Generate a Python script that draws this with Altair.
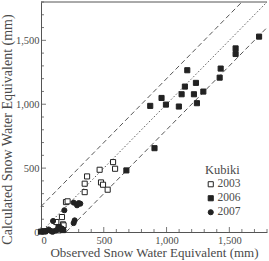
import altair as alt
import pandas as pd

# Observed / calculated snow water equivalent (mm)
obs_2003 = [199, 212, 367, 348, 348, 467, 478, 494, 531, 574, 590, 167, 122, 175, 140, 180, 20, 150]
calc_2003 = [234, 240, 435, 378, 312, 487, 388, 370, 331, 547, 495, 117, 78, 60, 13, 52, 5, 25]

obs_2006 = [870, 960, 995, 1098, 1120, 1146, 1165, 1218, 1234, 1242, 1293, 1423, 1431,
            904, 680, 1550, 1550, 1737, 0, 30, 140, 175]
calc_2006 = [987, 1049, 997, 982, 1078, 1138, 1266, 1078, 1167, 1008, 1099, 1208, 1279,
             656, 482, 1437, 1393, 1529, 3, 5, 39, 15]

obs_2007 = [186, 96, 260, 313, 287, 268, 260, 167, 42, 60, 75, 100, 120, 140, 155, 90, 300]
calc_2007 = [170, 86, 230, 222, 209, 91, 70, 27, 8, 20, 10, 5, 12, 35, 25, 2, 226]

years = ["2003", "2006", "2007"]
offsets = [200, -200]
x_max = 1800
y_max = 1800
major_ticks = [0, 500, 1000, 1500]
minor_ticks = [v for v in range(0, 1801, 100) if v % 500 != 0]

rows = []
for yr, xs_, ys_ in zip(years, [obs_2003, obs_2006, obs_2007], [calc_2003, calc_2006, calc_2007]):
    for a, b in zip(xs_, ys_):
        rows.append({"obs": a, "calc": b, "year": yr})
pts = pd.DataFrame(rows)

dash_rows = []
for off in offsets:
    x0 = max(0, -off)
    x1 = min(x_max, y_max - off)
    dash_rows.append({"line": str(off), "obs": x0, "calc": x0 + off, "o": 0})
    dash_rows.append({"line": str(off), "obs": x1, "calc": x1 + off, "o": 1})
dash_df = pd.DataFrame(dash_rows)
diag_df = pd.DataFrame({"obs": [0, min(x_max, y_max)], "calc": [0, min(x_max, y_max)], "o": [0, 1]})

W, H = 226, 230
FONT = "Liberation Serif"
GRAY = "#555555"
TEXT = "#4a4a4a"

xs = alt.Scale(domain=[0, x_max], nice=False, zero=False)
ys = alt.Scale(domain=[0, y_max], nice=False, zero=False)

dashed = alt.Chart(dash_df).mark_line(color="#444", strokeWidth=0.9, strokeDash=[5, 3]).encode(
    x=alt.X("obs:Q", scale=xs), y=alt.Y("calc:Q", scale=ys), detail="line:N", order="o:Q")
dotted = alt.Chart(diag_df).mark_line(color="#444", strokeWidth=0.9, strokeDash=[1.5, 2]).encode(
    x=alt.X("obs:Q", scale=xs), y=alt.Y("calc:Q", scale=ys), order="o:Q")

leg = alt.Legend(title="Kubiki", orient="none", legendX=164, legendY=162)
points = alt.Chart(pts).mark_point(size=26, opacity=1, strokeWidth=1).encode(
    x=alt.X("obs:Q", scale=xs,
            axis=alt.Axis(title="Observed Snow Water Equivalent (mm)", values=major_ticks,
                          format=",.0f", ticks=False, grid=False, labelPadding=3, titlePadding=1,
                          titleFontSize=13)),
    y=alt.Y("calc:Q", scale=ys,
            axis=alt.Axis(title="Calculated Snow Water Equivalent (mm)", values=major_ticks,
                          format=",.0f", ticks=False, grid=False, labelPadding=2, titlePadding=1,
                          titleFontSize=14, titleY=127)),
    shape=alt.Shape("year:N", scale=alt.Scale(domain=years, range=["square", "square", "circle"]),
                    legend=leg),
    fill=alt.Fill("year:N", scale=alt.Scale(domain=years, range=["white", "#222", "#222"]),
                  legend=leg),
    stroke=alt.Stroke("year:N", scale=alt.Scale(domain=years, range=["#222", "#222", "#222"]),
                      legend=leg),
)

major_df = pd.DataFrame({"v": major_ticks})
minor_df = pd.DataFrame({"v": minor_ticks})


def xtick_layer(df, length):
    return alt.Chart(df).mark_rule(color=GRAY, strokeWidth=0.8).encode(
        x=alt.X("v:Q", scale=xs), y=alt.value(H), y2=alt.value(H - length))


def ytick_layer(df, length):
    return alt.Chart(df).mark_rule(color=GRAY, strokeWidth=0.8).encode(
        y=alt.Y("v:Q", scale=ys), x=alt.value(0), x2=alt.value(length))


top_border = alt.Chart(major_df.head(1)).mark_rule(color=GRAY, strokeWidth=1).encode(
    x=alt.value(0), x2=alt.value(W), y=alt.value(0))

chart = alt.layer(
    dashed, dotted,
    xtick_layer(major_df, 5), xtick_layer(minor_df, 3),
    ytick_layer(major_df, 5), ytick_layer(minor_df, 3),
    top_border, points,
).properties(
    width=W, height=H,
    autosize=alt.AutoSizeParams(type="none"),
    padding={"left": 41, "top": 2, "right": 2, "bottom": 29},
).configure_view(stroke=None).configure_axis(
    domainColor=GRAY, domainWidth=1, labelFont=FONT, titleFont=FONT,
    labelFontSize=10.5, titleFontSize=13, labelColor=TEXT, titleColor=TEXT,
    titleFontWeight="normal",
).configure_legend(
    titleFont=FONT, labelFont=FONT, titleFontSize=12.5, labelFontSize=11.5,
    titleColor=TEXT, labelColor=TEXT, titleFontWeight="normal",
    symbolSize=26, symbolStrokeWidth=1, rowPadding=1, labelOffset=1, titlePadding=2,
)

chart.save("out.html", embed_options={"renderer": "svg", "actions": False})
